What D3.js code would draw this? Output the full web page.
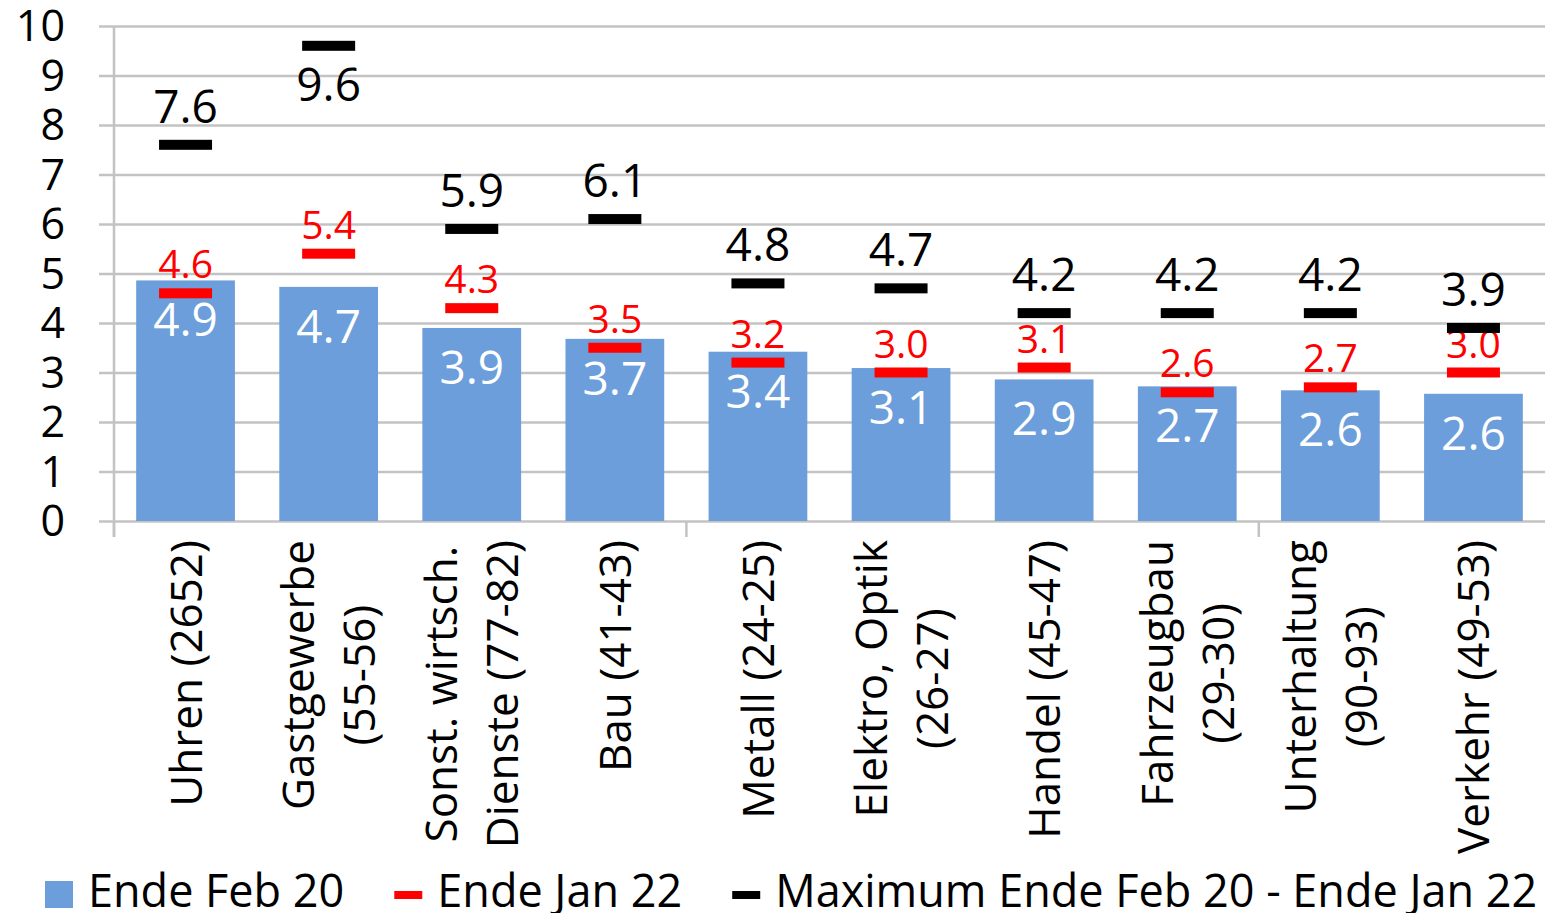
<!DOCTYPE html>
<html>
<head>
<meta charset="utf-8">
<script src="https://cdn.jsdelivr.net/npm/d3@7"></script>
<style>
  body { margin: 0; background: #fff; }
  svg { display: block; font-family: "Open Sans", sans-serif; }
</style>
</head>
<body>
<div id="chart"></div>
<script>
// data
const categories = [
  "Uhren (2652)",
  "Gastgewerbe\n(55-56)",
  "Sonst. wirtsch.\nDienste (77-82)",
  "Bau (41-43)",
  "Metall (24-25)",
  "Elektro, Optik\n(26-27)",
  "Handel (45-47)",
  "Fahrzeugbau\n(29-30)",
  "Unterhaltung\n(90-93)",
  "Verkehr (49-53)"
];
const endeFeb20 = [4.86, 4.73, 3.90, 3.68, 3.42, 3.09, 2.86, 2.72, 2.64, 2.57];
const endeJan22 = [4.6, 5.4, 4.3, 3.5, 3.2, 3.0, 3.1, 2.6, 2.7, 3.0];
const maxFebJan = [7.6, 9.6, 5.9, 6.1, 4.8, 4.7, 4.2, 4.2, 4.2, 3.9];
const yTicks = [0, 1, 2, 3, 4, 5, 6, 7, 8, 9, 10];
const legendLabels = ["Ende Feb 20", "Ende Jan 22", "Maximum Ende Feb 20 - Ende Jan 22"];

const width = 1545, height = 913;
const plot = {left: 114, right: 1545, top: 26, bottom: 521};
const blue = "#6c9edb", red = "#ff0000", grid = "#c3c3c3";
const fmt = d3.format(".1f");

const svg = d3.select("#chart").append("svg")
    .attr("width", width)
    .attr("height", height);

const x = d3.scaleBand()
    .domain(d3.range(categories.length))
    .range([plot.left, plot.right])
    .paddingInner(0.31)
    .paddingOuter(0.155);

const y = d3.scaleLinear().domain([0, 10]).range([plot.bottom, plot.top]);

// gridlines + y axis
const yAxis = svg.append("g")
    .attr("transform", `translate(${plot.left},0)`)
    .call(d3.axisLeft(y).tickValues(yTicks).tickSize(15).tickPadding(34).tickFormat(d3.format("d")));
yAxis.select(".domain").remove();
yAxis.selectAll(".tick line").attr("stroke", grid).attr("stroke-width", 2.5)
    .attr("x2", -15).attr("x1", plot.right - plot.left);
yAxis.selectAll(".tick text")
    .attr("fill", "#000")
    .attr("dy", "0.34em")
    .style("font-size", "43px")
    .style("font-family", "Open Sans");

// vertical axis line
svg.append("line")
    .attr("x1", plot.left).attr("x2", plot.left)
    .attr("y1", plot.top).attr("y2", plot.bottom + 16)
    .attr("stroke", grid).attr("stroke-width", 2.5);

// x axis tick marks every 4 categories
const step = x.step();
[0, 4, 8].forEach(i => {
  svg.append("line")
    .attr("x1", plot.left + i * step).attr("x2", plot.left + i * step)
    .attr("y1", plot.bottom).attr("y2", plot.bottom + 16)
    .attr("stroke", grid).attr("stroke-width", 2.5);
});

// bars
svg.selectAll(".bar")
    .data(endeFeb20)
    .join("rect")
    .attr("class", "bar")
    .attr("x", (d, i) => x(i))
    .attr("width", x.bandwidth())
    .attr("y", d => y(d))
    .attr("height", d => y(0) - y(d))
    .attr("fill", blue);

svg.selectAll(".bar-label")
    .data(endeFeb20)
    .join("text")
    .attr("class", "bar-label")
    .attr("x", (d, i) => x(i) + x.bandwidth() / 2)
    .attr("y", d => y(d) + 56)
    .attr("text-anchor", "middle")
    .attr("fill", "#fff")
    .style("font-size", "46px")
    .text(d => fmt(d));

// markers
const markW = 53, markH = 10;
function markers(data, color, cls, fontSize, offset) {
  svg.selectAll("." + cls)
      .data(data)
      .join("rect")
      .attr("class", cls)
      .attr("x", (d, i) => x(i) + x.bandwidth() / 2 - markW / 2)
      .attr("y", d => y(d) - markH / 2)
      .attr("width", markW)
      .attr("height", markH)
      .attr("fill", color);

  svg.selectAll("." + cls + "-label")
      .data(data)
      .join("text")
      .attr("class", cls + "-label")
      .attr("x", (d, i) => x(i) + x.bandwidth() / 2)
      .attr("y", d => {
        const above = y(d) - offset;
        // label would leave plot area -> put it below the marker
        return above - fontSize * 0.72 < plot.top ? y(d) + offset + fontSize * 0.72 : above;
      })
      .attr("text-anchor", "middle")
      .attr("fill", color)
      .style("font-size", fontSize + "px")
      .text(d => fmt(d));
}
markers(endeJan22, red, "jan22", 39, 15);
markers(maxFebJan, "#000", "maxi", 46, 22);

// category labels, rotated
const labelTop = 540, lineGap = 61;
categories.forEach((c, i) => {
  const lines = c.split("\n");
  const cx = x(i) + x.bandwidth() / 2;
  const g = svg.append("g");
  const texts = lines.map((l, j) => g.append("text")
      .style("font-size", "44px")
      .attr("text-anchor", "middle")
      .text(l));
  const maxLen = d3.max(texts, t => t.node().getComputedTextLength());
  texts.forEach((t, j) => {
    const lx = cx + (j - (lines.length - 1) / 2) * lineGap + 16;
    const ly = labelTop + maxLen / 2;
    t.attr("transform", `translate(${lx},${ly}) rotate(-90)`);
  });
});

// legend
const legend = svg.append("g").attr("transform", "translate(45,0)");
let lx = 0;
legendLabels.forEach((l, i) => {
  if (i === 0) {
    legend.append("rect").attr("x", lx).attr("y", 881).attr("width", 28).attr("height", 27).attr("fill", blue);
  } else {
    legend.append("rect").attr("x", lx).attr("y", 891).attr("width", 28).attr("height", 8)
        .attr("fill", i === 1 ? red : "#000");
  }
  const t = legend.append("text")
      .attr("x", lx + 43)
      .attr("y", 907)
      .style("font-size", "45px")
      .text(l);
  lx += 43 + t.node().getComputedTextLength() + 50;
});
</script>
</body>
</html>
